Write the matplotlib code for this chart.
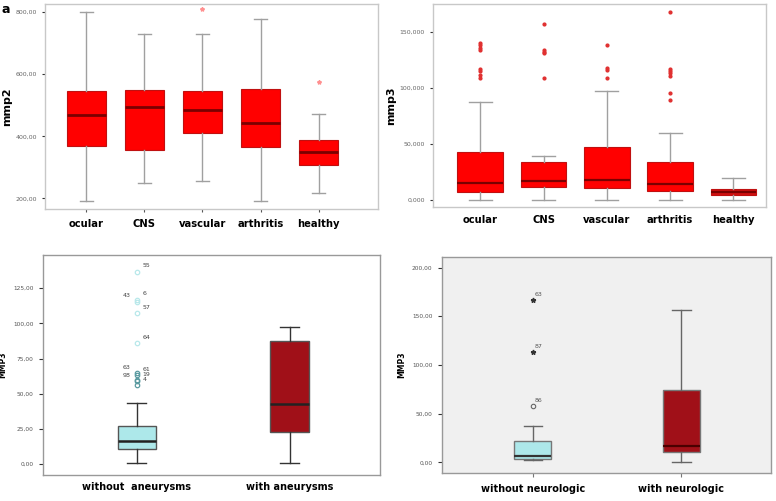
import matplotlib
matplotlib.use("Agg")
import matplotlib.pyplot as plt

# ---- panel a: mmp2 by group
groups_top = ["ocular", "CNS", "vascular", "arthritis", "healthy"]
mmp2_low = [190, 250, 255, 190, 216]
mmp2_q1 = [369, 356, 410, 367, 309]
mmp2_med = [468, 495, 486, 444, 350]
mmp2_q3 = [545, 550, 545, 552, 389]
mmp2_high = [800, 730, 730, 777, 473]
mmp2_out = [[], [], [809], [], [575]]
mmp2_ticks = [200, 400, 600, 800]
mmp2_ticklabels = ["200,00", "400,00", "600,00", "800,00"]

# ---- panel b: mmp3 by group
mmp3_low = [0, 0, 0, 0, 0]
mmp3_q1 = [7.1, 11.9, 10.7, 8.6, 4.5]
mmp3_med = [14.9, 17.5, 18.4, 14.0, 7.4]
mmp3_q3 = [43.1, 34.2, 47.5, 34.2, 10.4]
mmp3_high = [87.3, 39.5, 97.4, 60.0, 19.6]
mmp3_out = [[140, 138, 136, 134, 117, 115, 112, 109],
            [157, 134, 132, 131, 109],
            [138.7, 118, 116, 108.7],
            [167.8, 117, 115.5, 113.5, 110.5, 95.6, 89.7],
            []]
mmp3_ticks = [0, 50, 100, 150]
mmp3_ticklabels = ["0,000", "50,000", "100,000", "150,000"]

# ---- panel c: aneurysms
groups_c = ["without  aneurysms", "with aneurysms"]
c_low = [1.2, 1.2]
c_q1 = [10.9, 23.2]
c_med = [16.8, 43.0]
c_q3 = [26.9, 87.4]
c_high = [43.7, 97.6]
c_out_vals = [136.8, 115.5, 117.0, 107.3, 86.0, 64.7, 63.6, 60.0, 58.8, 56.0]
c_out_ids = ["55", "43", "6", "57", "64", "63", "61", "19", "98", "4"]
c_out_side = ["r", "l", "r", "r", "r", "l", "r", "r", "l", "r"]
c_ticks = [0, 25, 50, 75, 100, 125]
c_ticklabels = ["0,00", "25,00", "50,00", "75,00", "100,00", "125,00"]

# ---- panel d: neurologic
groups_d = ["without neurologic", "with neurologic"]
d_low = [2.0, 0.7]
d_q1 = [3.4, 10.9]
d_med = [6.8, 16.4]
d_q3 = [22.2, 73.8]
d_high = [37.6, 155.9]
d_star_vals = [166.5, 112.8]
d_star_ids = ["63", "87"]
d_circ_vals = [57.4]
d_circ_ids = ["86"]
d_ticks = [0, 50, 100, 150, 200]
d_ticklabels = ["0,00", "50,00", "100,00", "150,00", "200,00"]


def make_stats(lo, q1, med, q3, hi, fl=None):
    out = []
    for i in range(len(med)):
        out.append(dict(whislo=lo[i], q1=q1[i], med=med[i], q3=q3[i], whishi=hi[i],
                        fliers=(fl[i] if fl else [])))
    return out


def frame(ax, color):
    for s in ax.spines.values():
        s.set_color(color)
        s.set_linewidth(1.0)


fig = plt.figure(figsize=(7.76, 5.01), dpi=100)

# ---------------- panel a
ax = fig.add_axes([0.058, 0.583, 0.429, 0.409])
ax.bxp(make_stats(mmp2_low, mmp2_q1, mmp2_med, mmp2_q3, mmp2_high, mmp2_out),
       positions=range(1, 6), widths=0.68, capwidths=0.22, patch_artist=True,
       boxprops=dict(facecolor="#ff0000", edgecolor="#c01010", linewidth=0.8),
       medianprops=dict(color="#7a0000", linewidth=2.0),
       whiskerprops=dict(color="#a0a0a0", linewidth=1.0),
       capprops=dict(color="#a0a0a0", linewidth=1.0),
       flierprops=dict(marker="*", markersize=3, markerfacecolor="#ff9090",
                       markeredgecolor="#ff9090", linestyle="none"))
ax.set_xlim(0.29, 6.02)
ax.set_ylim(166, 826)
ax.set_yticks(mmp2_ticks)
ax.set_yticklabels(mmp2_ticklabels)
ax.set_xticks(range(1, 6))
ax.set_xticklabels(groups_top, fontsize=7.2, fontweight="bold")
ax.tick_params(axis="y", labelsize=4.5, labelcolor="#666666", length=2, color="#333333")
ax.tick_params(axis="x", length=2, color="#555555", pad=5)
ax.set_ylabel("mmp2", fontsize=8, fontweight="bold", labelpad=3)
frame(ax, "#c8c8c8")

# ---------------- panel b
ax = fig.add_axes([0.5576, 0.587, 0.430, 0.405])
ax.bxp(make_stats(mmp3_low, mmp3_q1, mmp3_med, mmp3_q3, mmp3_high, mmp3_out),
       positions=range(1, 6), widths=0.72, capwidths=0.36, patch_artist=True,
       boxprops=dict(facecolor="#ff0000", edgecolor="#c01010", linewidth=0.8),
       medianprops=dict(color="#7a0000", linewidth=1.6),
       whiskerprops=dict(color="#a0a0a0", linewidth=1.0),
       capprops=dict(color="#a0a0a0", linewidth=1.0),
       flierprops=dict(marker="o", markersize=2, markerfacecolor="#e03030",
                       markeredgecolor="#e03030", linestyle="none"))
ax.patches[-1].set_facecolor("#d01010")
ax.set_xlim(0.25, 5.52)
ax.set_ylim(-6, 175)
ax.set_yticks(mmp3_ticks)
ax.set_yticklabels(mmp3_ticklabels)
ax.set_xticks(range(1, 6))
ax.set_xticklabels(groups_top, fontsize=7.2, fontweight="bold")
ax.tick_params(axis="y", labelsize=4.5, labelcolor="#666666", length=2, color="#333333")
ax.tick_params(axis="x", length=0, pad=6)
ax.set_ylabel("mmp3", fontsize=8, fontweight="bold", labelpad=3)
frame(ax, "#c8c8c8")

# ---------------- panel c
ax = fig.add_axes([0.055, 0.052, 0.435, 0.439])
ax.bxp(make_stats(c_low, c_q1, c_med, c_q3, c_high),
       positions=[1, 2], widths=0.25, capwidths=0.125, patch_artist=True,
       showfliers=False,
       boxprops=dict(facecolor="#ade8ea", edgecolor="#555555", linewidth=1.0),
       medianprops=dict(color="#222222", linewidth=1.8),
       whiskerprops=dict(color="#333333", linewidth=1.0),
       capprops=dict(color="#333333", linewidth=1.0))
ax.patches[1].set_facecolor("#a01018")
for i, v in enumerate(c_out_vals):
    col = "#b8e8ea" if v > 80 else "#5a9aa0"
    ax.plot(1, v, marker="o", markersize=3.2, markerfacecolor="none",
            markeredgecolor=col, markeredgewidth=0.9, linestyle="none")
    if c_out_side[i] == "r":
        ax.annotate(c_out_ids[i], (1, v), xytext=(4, 3), textcoords="offset points",
                    fontsize=4.5, color="#444444")
    else:
        ax.annotate(c_out_ids[i], (1, v), xytext=(-10, 3), textcoords="offset points",
                    fontsize=4.5, color="#444444")
ax.set_xlim(0.384, 2.594)
ax.set_ylim(-7.6, 148.6)
ax.set_yticks(c_ticks)
ax.set_yticklabels(c_ticklabels)
ax.set_xticks([1, 2])
ax.set_xticklabels(groups_c, fontsize=7, fontweight="bold")
ax.tick_params(axis="y", labelsize=4.2, labelcolor="#555555", length=3, color="#333333")
ax.tick_params(axis="x", length=0, pad=5)
ax.set_ylabel("MMP3", fontsize=5.5, fontweight="bold", labelpad=4)
frame(ax, "#999999")

# ---------------- panel d
ax = fig.add_axes([0.569, 0.056, 0.425, 0.432])
ax.set_facecolor("#f0f0f0")
ax.bxp(make_stats(d_low, d_q1, d_med, d_q3, d_high),
       positions=[1, 2], widths=0.25, capwidths=0.125, patch_artist=True,
       showfliers=False,
       boxprops=dict(facecolor="#ade8ea", edgecolor="#777777", linewidth=1.0),
       medianprops=dict(color="#333333", linewidth=1.6),
       whiskerprops=dict(color="#666666", linewidth=1.0),
       capprops=dict(color="#666666", linewidth=1.0))
ax.patches[1].set_facecolor("#a01018")
ax.lines[-1].set_color("#4a0000")
for v, lab in zip(d_star_vals, d_star_ids):
    ax.plot(1, v, marker="*", markersize=3.5, color="#333333", linestyle="none")
    ax.annotate(lab, (1, v), xytext=(1.5, 3), textcoords="offset points",
                fontsize=4.5, color="#555555")
for v, lab in zip(d_circ_vals, d_circ_ids):
    ax.plot(1, v, marker="o", markersize=3.2, markerfacecolor="none",
            markeredgecolor="#666666", markeredgewidth=0.8, linestyle="none")
    ax.annotate(lab, (1, v), xytext=(1.5, 3), textcoords="offset points",
                fontsize=4.5, color="#555555")
ax.set_xlim(0.386, 2.605)
ax.set_ylim(-10.9, 211.3)
ax.set_yticks(d_ticks)
ax.set_yticklabels(d_ticklabels)
ax.set_xticks([1, 2])
ax.set_xticklabels(groups_d, fontsize=7, fontweight="bold")
ax.tick_params(axis="y", labelsize=4.2, labelcolor="#555555", length=3, color="#333333")
ax.tick_params(axis="x", length=3, color="#777777", pad=5)
ax.set_ylabel("MMP3", fontsize=5.5, fontweight="bold", labelpad=4)
frame(ax, "#999999")

fig.text(0.002, 0.995, "a", fontsize=9, fontweight="bold", va="top", ha="left")

fig.savefig("out.png", dpi=100)
